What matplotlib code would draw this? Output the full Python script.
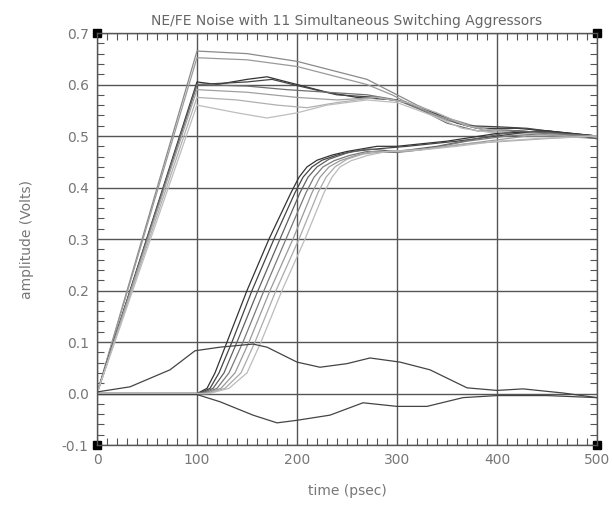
import numpy as np
import matplotlib
matplotlib.use("Agg")
import matplotlib.pyplot as plt
from matplotlib.ticker import MultipleLocator

# near-end aggressors (ramp 0-100 ps)
a1_t = [0, 100, 150, 200, 240, 270, 295, 320, 350, 385, 420, 460, 500]
a1_v = [0, 0.665, 0.66, 0.645, 0.625, 0.61, 0.585, 0.56, 0.535, 0.515, 0.51, 0.505, 0.495]
a2_t = [0, 100, 150, 200, 240, 270, 295, 320, 350, 385, 420, 460, 500]
a2_v = [0, 0.652, 0.648, 0.635, 0.615, 0.60, 0.58, 0.555, 0.53, 0.515, 0.51, 0.50, 0.495]
a3_t = [0, 100, 120, 150, 170, 200, 230, 260, 300, 330, 360, 380, 420, 450, 500]
a3_v = [0, 0.605, 0.60, 0.61, 0.615, 0.60, 0.585, 0.575, 0.57, 0.55, 0.525, 0.515, 0.515, 0.51, 0.50]
a4_t = [0, 100, 150, 175, 200, 240, 280, 310, 340, 370, 400, 430, 470, 500]
a4_v = [0, 0.60, 0.605, 0.61, 0.598, 0.58, 0.575, 0.565, 0.54, 0.52, 0.518, 0.515, 0.505, 0.497]
a5_t = [0, 100, 150, 190, 230, 270, 300, 325, 350, 380, 420, 460, 500]
a5_v = [0, 0.60, 0.597, 0.59, 0.585, 0.58, 0.57, 0.55, 0.525, 0.51, 0.51, 0.505, 0.498]
a6_t = [0, 100, 150, 200, 240, 280, 310, 340, 370, 400, 440, 480, 500]
a6_v = [0, 0.59, 0.585, 0.575, 0.57, 0.575, 0.565, 0.54, 0.52, 0.505, 0.505, 0.50, 0.495]
a7_t = [0, 100, 140, 180, 210, 240, 280, 310, 340, 370, 400, 450, 500]
a7_v = [0, 0.575, 0.57, 0.56, 0.555, 0.565, 0.575, 0.565, 0.545, 0.52, 0.51, 0.505, 0.498]
a8_t = [0, 100, 140, 170, 200, 230, 270, 300, 335, 365, 400, 450, 500]
a8_v = [0, 0.56, 0.545, 0.535, 0.545, 0.56, 0.57, 0.565, 0.54, 0.515, 0.505, 0.505, 0.497]

# far-end aggressors (delayed ramp)
b1_t = [0, 100, 110, 118, 130, 150, 172, 194, 202, 210, 220, 235, 250, 280, 300, 350, 400, 450, 500]
b1_v = [0, 0, 0.01, 0.04, 0.1, 0.2, 0.3, 0.39, 0.42, 0.44, 0.453, 0.463, 0.47, 0.48, 0.48, 0.49, 0.505, 0.51, 0.50]
b2_t = [0, 102, 113, 122, 135, 155, 177, 198, 206, 215, 225, 240, 255, 280, 310, 360, 400, 440, 500]
b2_v = [0, 0, 0.01, 0.04, 0.1, 0.2, 0.3, 0.39, 0.42, 0.44, 0.453, 0.463, 0.47, 0.475, 0.48, 0.49, 0.50, 0.51, 0.50]
b3_t = [0, 104, 116, 127, 140, 161, 183, 203, 211, 220, 232, 250, 270, 300, 340, 380, 420, 460, 500]
b3_v = [0, 0, 0.01, 0.04, 0.1, 0.2, 0.3, 0.39, 0.42, 0.44, 0.455, 0.467, 0.475, 0.47, 0.48, 0.495, 0.51, 0.505, 0.495]
b4_t = [0, 106, 120, 132, 146, 167, 189, 209, 217, 226, 237, 252, 270, 300, 330, 370, 410, 450, 500]
b4_v = [0, 0, 0.01, 0.04, 0.1, 0.2, 0.3, 0.39, 0.42, 0.44, 0.452, 0.462, 0.47, 0.468, 0.475, 0.49, 0.50, 0.505, 0.50]
b5_t = [0, 108, 124, 138, 152, 173, 196, 215, 223, 232, 243, 258, 275, 310, 350, 390, 430, 500]
b5_v = [0, 0, 0.01, 0.04, 0.1, 0.2, 0.3, 0.39, 0.42, 0.44, 0.452, 0.462, 0.47, 0.47, 0.48, 0.49, 0.50, 0.50]
b6_t = [0, 110, 128, 144, 158, 179, 202, 221, 229, 238, 250, 266, 290, 330, 370, 410, 450, 500]
b6_v = [0, 0, 0.01, 0.04, 0.1, 0.2, 0.3, 0.39, 0.42, 0.44, 0.455, 0.465, 0.47, 0.475, 0.485, 0.49, 0.495, 0.50]
b7_t = [0, 112, 132, 150, 164, 185, 208, 227, 235, 243, 254, 270, 290, 320, 360, 400, 440, 500]
b7_v = [0, 0, 0.01, 0.04, 0.1, 0.2, 0.3, 0.39, 0.42, 0.44, 0.452, 0.462, 0.47, 0.472, 0.48, 0.49, 0.495, 0.50]

# victim noise
ne_t = [0, 33, 73, 98, 123, 156, 170, 200, 223, 250, 273, 303, 333, 370, 400, 426, 466, 500]
ne_v = [0.003, 0.013, 0.046, 0.083, 0.09, 0.096, 0.09, 0.061, 0.051, 0.058, 0.069, 0.061, 0.046, 0.011, 0.006, 0.009, 0.001, -0.008]
fe_t = [0, 100, 123, 156, 180, 200, 233, 266, 300, 330, 366, 400, 450, 500]
fe_v = [-0.002, -0.002, -0.016, -0.042, -0.057, -0.052, -0.042, -0.018, -0.025, -0.025, -0.008, -0.004, -0.004, -0.008]

a_curves = [(a1_t, a1_v, "#8a8a8a"), (a2_t, a2_v, "#9a9a9a"), (a3_t, a3_v, "#333333"),
            (a4_t, a4_v, "#444444"), (a5_t, a5_v, "#707070"), (a6_t, a6_v, "#a0a0a0"),
            (a7_t, a7_v, "#b0b0b0"), (a8_t, a8_v, "#bdbdbd")]
b_curves = [(b1_t, b1_v, "#333333"), (b2_t, b2_v, "#444444"), (b3_t, b3_v, "#606060"),
            (b4_t, b4_v, "#7a7a7a"), (b5_t, b5_v, "#999999"), (b6_t, b6_v, "#aaaaaa"),
            (b7_t, b7_v, "#bbbbbb")]

fig = plt.figure(figsize=(6.12, 5.08), dpi=100)
ax = fig.add_axes([0.1585, 0.124, 0.817, 0.811])

for t, v, c in a_curves + b_curves:
    ax.plot(t, v, color=c, lw=0.9)
ax.plot(ne_t, ne_v, color="#444444", lw=0.9)
ax.plot(fe_t, fe_v, color="#444444", lw=0.9)

ax.set_xlim(0, 500)
ax.set_ylim(-0.1, 0.7)
ax.xaxis.set_major_locator(MultipleLocator(100))
ax.xaxis.set_minor_locator(MultipleLocator(10))
ax.yaxis.set_major_locator(MultipleLocator(0.1))
ax.yaxis.set_minor_locator(MultipleLocator(0.02))
ax.yaxis.set_major_formatter(plt.FuncFormatter(lambda y, p: "%.1f" % y))
ax.grid(True, which="major", color="#555555", lw=1.0)
ax.tick_params(which="both", direction="in", top=True, right=True,
               colors="#555555", labelcolor="#777777", labelsize=10)
ax.tick_params(which="major", length=0, pad=6)
ax.tick_params(which="minor", length=5, width=0.8)
for s in ax.spines.values():
    s.set_color("#555555")
    s.set_linewidth(1.0)

# corner markers
ax.plot([0, 1, 0, 1], [0, 0, 1, 1], "s", color="black", ms=6,
        transform=ax.transAxes, clip_on=False)

ax.set_title("NE/FE Noise with 11 Simultaneous Switching Aggressors",
             color="#666666", fontsize=10, pad=6)
ax.set_xlabel("time (psec)", color="#777777", fontsize=10, labelpad=12)
ax.set_ylabel("amplitude (Volts)", color="#777777", fontsize=10, labelpad=20)

fig.savefig("out.png", dpi=100)
